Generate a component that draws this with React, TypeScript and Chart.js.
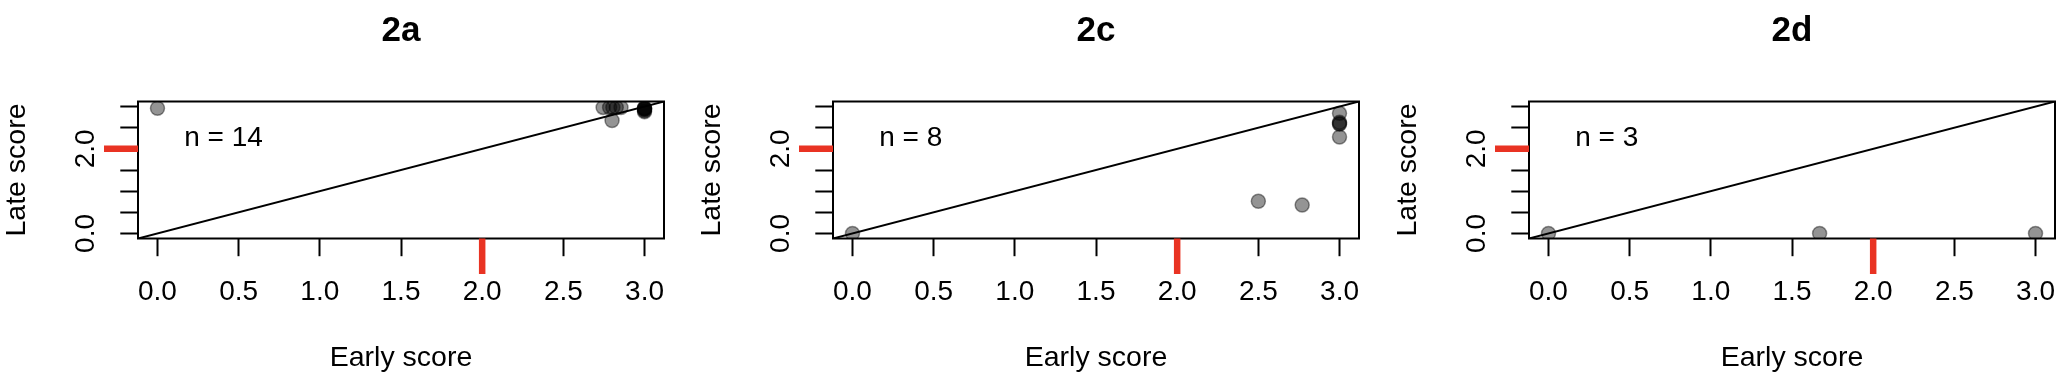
import React, { useEffect, useRef } from 'react';
import { Chart, registerables } from 'chart.js';

Chart.register(...registerables);

// ---- data ----
const PANEL_TITLES = ['2a', '2c', '2d'];

const EARLY_2A = [0, 2.745, 2.785, 2.805, 2.826, 2.855, 2.8, 3, 3, 3, 3, 3, 3, 3];
const LATE_2A = [2.96, 2.98, 2.98, 2.98, 2.98, 2.98, 2.67, 2.97, 2.95, 2.93, 2.9, 2.88, 2.96, 2.94];

const EARLY_2C = [0, 2.5, 2.77, 3, 3, 3, 3, 3];
const LATE_2C = [0, 0.76, 0.67, 2.84, 2.63, 2.6, 2.58, 2.28];

const EARLY_2D = [0, 1.67, 3];
const LATE_2D = [0, 0, 0];

const X_TICKS = [0, 0.5, 1, 1.5, 2, 2.5, 3];
const Y_LABELLED_TICKS = [0, 2];
const THRESHOLD = 2;
const AXIS_MIN = -0.12;
const AXIS_MAX = 3.12;
const TICK_STEP = 0.5;
const NOTE_X = 0.165;
const NOTE_Y = 2.25;

const X_TITLE = 'Early score';
const Y_TITLE = 'Late score';

const PANELS = [
  { title: PANEL_TITLES[0], early: EARLY_2A, late: LATE_2A },
  { title: PANEL_TITLES[1], early: EARLY_2C, late: LATE_2C },
  { title: PANEL_TITLES[2], early: EARLY_2D, late: LATE_2D },
];

// ---- layout / style ----
const PANEL_OFFSETS = [0, 695, 1391];
const CW = 677;
const CH = 390;
const PLOT_LEFT = 138;
const PLOT_RIGHT = 664;
const PLOT_TOP = 101.5;
const PLOT_BOTTOM = 238.5;
const FONT = '"Liberation Sans", Arial, Helvetica, sans-serif';
const RED = '#e93323';
const PT = 'rgba(0,0,0,0.42)';

const zeroPadding = (s: any) => {
  s.paddingLeft = 0;
  s.paddingRight = 0;
  s.paddingTop = 0;
  s.paddingBottom = 0;
};

const decorPlugin = {
  id: 'decor',
  afterDraw(chart: any) {
    const { ctx, chartArea: a, scales } = chart;
    const x = scales.x;
    const y = scales.y;
    const opts = chart.options.plugins.decor;
    ctx.save();
    // box
    ctx.strokeStyle = '#000';
    ctx.lineWidth = 2;
    ctx.strokeRect(a.left, a.top, a.right - a.left, a.bottom - a.top);
    // red threshold ticks
    ctx.strokeStyle = RED;
    ctx.lineWidth = 6.5;
    ctx.lineCap = 'butt';
    const ry = y.getPixelForValue(THRESHOLD);
    ctx.beginPath();
    ctx.moveTo(a.left - 34, ry);
    ctx.lineTo(a.left, ry);
    ctx.stroke();
    const rx = x.getPixelForValue(THRESHOLD);
    ctx.beginPath();
    ctx.moveTo(rx, a.bottom);
    ctx.lineTo(rx, a.bottom + 35.5);
    ctx.stroke();
    // y tick labels (rotated, parallel to axis)
    ctx.fillStyle = '#000';
    ctx.font = `28px ${FONT}`;
    ctx.textAlign = 'center';
    ctx.textBaseline = 'middle';
    for (const v of Y_LABELLED_TICKS) {
      const py = y.getPixelForValue(v);
      ctx.save();
      ctx.translate(a.left - 51.3, py);
      ctx.rotate(-Math.PI / 2);
      ctx.fillText(v.toFixed(1), 0, 0);
      ctx.restore();
    }
    // panel title
    ctx.font = `bold 35px ${FONT}`;
    ctx.textAlign = 'center';
    ctx.fillText(opts.title, (a.left + a.right) / 2, a.top - 70);
    // n annotation
    ctx.font = `28px ${FONT}`;
    ctx.textAlign = 'left';
    ctx.fillText(opts.note, x.getPixelForValue(NOTE_X), y.getPixelForValue(NOTE_Y));
    ctx.restore();
  },
};

function Panel({ idx }: { idx: number }) {
  const ref = useRef<HTMLCanvasElement | null>(null);
  useEffect(() => {
    const p = PANELS[idx];
    const canvas = ref.current!;
    const chart = new Chart(canvas, {
      type: 'scatter',
      data: {
        datasets: [
          {
            data: [
              { x: AXIS_MIN, y: AXIS_MIN },
              { x: AXIS_MAX, y: AXIS_MAX },
            ],
            showLine: true,
            borderColor: '#000',
            borderWidth: 2,
            pointRadius: 0,
            pointHoverRadius: 0,
            order: 0,
            clip: 0,
          } as any,
          {
            data: p.early.map((e, i) => ({ x: e, y: p.late[i] })),
            pointRadius: 7,
            pointHoverRadius: 7,
            backgroundColor: PT,
            borderColor: PT,
            borderWidth: 1.5,
            order: 1,
            clip: 0,
          } as any,
        ],
      },
      options: {
        animation: false,
        responsive: false,
        events: [],
        layout: {
          padding: { left: 0, right: CW - PLOT_RIGHT, top: PLOT_TOP, bottom: 0 },
          autoPadding: false,
        },
        plugins: {
          legend: { display: false },
          tooltip: { enabled: false },
          decor: { title: p.title, note: `n = ${p.early.length}` },
        } as any,
        scales: {
          x: {
            type: 'linear',
            min: AXIS_MIN,
            max: AXIS_MAX,
            afterFit: (s: any) => {
              s.height = CH - PLOT_BOTTOM;
              zeroPadding(s);
            },
            afterBuildTicks: (s: any) => {
              s.ticks = X_TICKS.map((v) => ({ value: v }));
            },
            ticks: {
              stepSize: TICK_STEP,
              includeBounds: false,
              autoSkip: false,
              maxRotation: 0,
              minRotation: 0,
              padding: 19,
              color: '#000',
              font: { family: FONT, size: 28 },
              callback: (v: any) => Number(v).toFixed(1),
            },
            grid: {
              drawOnChartArea: false,
              drawTicks: true,
              tickLength: 17.7,
              tickWidth: 2,
              tickColor: '#000',
            },
            border: { display: false },
            title: {
              display: true,
              text: X_TITLE,
              color: '#000',
              font: { family: FONT, size: 28.5 },
              padding: { top: 0, bottom: 15 },
            },
          },
          y: {
            type: 'linear',
            min: AXIS_MIN,
            max: AXIS_MAX,
            afterFit: (s: any) => {
              s.width = PLOT_LEFT;
              zeroPadding(s);
            },
            ticks: {
              display: false,
              stepSize: TICK_STEP,
              includeBounds: false,
            },
            grid: {
              drawOnChartArea: false,
              drawTicks: true,
              tickLength: 17.7,
              tickWidth: 2,
              tickColor: '#000',
            },
            border: { display: false },
            title: {
              display: true,
              text: Y_TITLE,
              color: '#000',
              font: { family: FONT, size: 28.5 },
              padding: { top: 0, bottom: 0 },
            },
          },
        } as any,
      },
      plugins: [decorPlugin],
    } as any);
    return () => chart.destroy();
  }, [idx]);
  return (
    <canvas
      ref={ref}
      width={CW}
      height={CH}
      style={{ position: 'absolute', left: PANEL_OFFSETS[idx], top: 0, width: CW, height: CH }}
    />
  );
}

export default function App() {
  return (
    <div
      style={{
        position: 'absolute',
        left: 0,
        top: 0,
        width: 2068,
        height: 390,
        overflow: 'hidden',
        background: '#fff',
      }}
    >
      {PANELS.map((_, i) => (
        <Panel key={i} idx={i} />
      ))}
    </div>
  );
}
